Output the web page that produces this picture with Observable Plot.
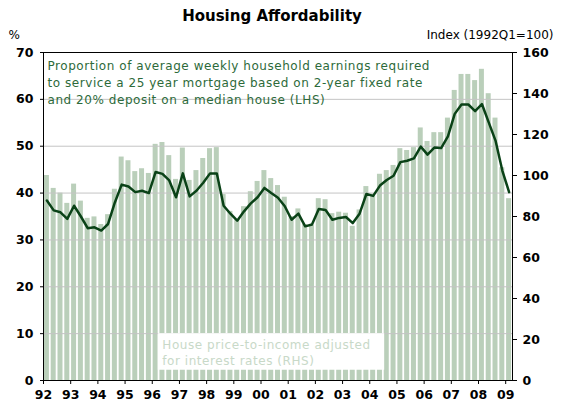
<!DOCTYPE html>
<html><head><meta charset="utf-8">
<script src="https://cdn.jsdelivr.net/npm/d3@7"></script>
<script src="https://cdn.jsdelivr.net/npm/@observablehq/plot@0.6"></script>
<style>
body{margin:0;background:#fff;}
#chart svg{display:block;}
.lhs-note text, .rhs-note text{letter-spacing:0.55px;}
</style></head><body><div id="chart"></div>
<script>
const startYear = 1992;
const yearLabels = ["92","93","94","95","96","97","98","99","00","01","02","03","04","05","06","07","08","09"];
const pctTicks = [0,10,20,30,40,50,60,70];
const indexTicks = [0,20,40,60,80,100,120,140,160];
const gridPct = [10,20,30,40,50,60];

// House price-to-income adjusted for interest rates (RHS, index 1992Q1=100), quarterly from 1992Q1
const priceToIncomeIndex = [
  100.0, 93.7, 91.4, 86.4, 95.8, 87.5, 79.1, 79.8, 76.1, 80.9, 93.3, 109.0,
  107.2, 101.9, 103.3, 101.0, 115.2, 116.1, 109.7, 98.1, 113.4, 97.6, 102.4, 108.3,
  113.1, 113.6, 90.7, 82.5, 78.4, 84.8, 92.1, 97.1, 102.4, 98.5, 95.1, 89.4,
  80.0, 83.7, 76.1, 75.7, 88.7, 88.2, 81.4, 82.1, 81.6, 75.2, 83.2, 94.6,
  91.0, 100.6, 102.4, 104.9, 113.1, 112.2, 113.6, 123.2, 116.6, 120.9, 120.9, 128.0,
  141.5, 149.3, 149.3, 146.3, 151.8, 139.9, 128.0, 103.8, 88.7
];
// Proportion of average weekly household earnings to service mortgage (LHS, %)
const mortgageSharePct = [
  38.4, 36.3, 35.9, 34.5, 37.3, 35.0, 32.5, 32.7, 32.0, 33.4, 38.0, 41.8,
  41.4, 40.2, 40.5, 40.0, 44.5, 44.1, 42.7, 39.1, 44.2, 39.3, 40.5, 42.2,
  44.2, 44.2, 37.3, 35.6, 34.1, 36.1, 37.8, 39.1, 41.1, 40.0, 39.0, 37.2,
  34.3, 35.6, 32.9, 33.3, 36.6, 36.4, 34.3, 34.7, 34.9, 33.6, 35.6, 39.8,
  39.4, 41.6, 42.8, 43.7, 46.6, 46.9, 47.4, 49.9, 48.2, 49.7, 49.6, 52.1,
  56.9, 58.9, 58.9, 57.5, 59.0, 55.1, 51.2, 44.8, 40.2
];

const title = "Housing Affordability";
const leftUnit = "%";
const rightUnit = "Index (1992Q1=100)";
const lhsNote = [
  "Proportion of average weekly household earnings required",
  "to service a 25 year mortgage based on 2-year fixed rate",
  "and 20% deposit on a median house (LHS)"
];
const rhsNote = ["House price-to-income adjusted", "for interest rates (RHS)"];

const pctMax = 70, idxMax = 160;
const idxToPct = v => v * pctMax / idxMax;
const rows = priceToIncomeIndex.map((v, i) => ({
  x0: startYear + i / 4,
  x1: startYear + (i + 1) / 4,
  xm: startYear + i / 4 + 0.125,
  bar: idxToPct(v),
  line: mortgageSharePct[i]
}));
const yearTicks = yearLabels.map((s, i) => startYear + i);

const font = "DejaVu Sans";
const chart = Plot.plot({
  width: 561, height: 410,
  marginLeft: 43, marginRight: 49, marginTop: 52, marginBottom: 30,
  x: {domain: [startYear, startYear + priceToIncomeIndex.length / 4]},
  y: {domain: [0, pctMax]},
  style: {fontFamily: font, background: "#fff", color: "#000"},
  marks: [
    Plot.rectY(rows, {x1: "x0", x2: "x1", y: "bar", fill: "#bacfba", insetLeft: 0.9, insetRight: 0.9}),
    Plot.ruleY(gridPct, {stroke: "#c4c4c4", strokeWidth: 1}),
    Plot.text([rhsNote.join("\n")], {x: 1996.37, y: 9.3, textAnchor: "start", lineAnchor: "top",
      lineHeight: 1.38, fontSize: 12, fill: "#c8d9c8", className: "rhs-note"}),
    Plot.text([lhsNote.join("\n")], {frameAnchor: "top-left", dx: 4, dy: 5, textAnchor: "start", lineAnchor: "top",
      lineHeight: 1.42, fontSize: 12, fill: "#2d6a3a", className: "lhs-note"}),
    Plot.line(rows, {x: "xm", y: "line", stroke: "#0a4217", strokeWidth: 2.5, strokeLinejoin: "round"}),
    Plot.frame({stroke: "#000"}),
    Plot.axisY(pctTicks, {anchor: "left", tickSize: 3, tickPadding: 7, fontSize: 12.5, fontWeight: "bold", label: null}),
    Plot.axisY(indexTicks.map(idxToPct), {anchor: "right", tickSize: 4, tickPadding: 6, fontSize: 12.5, fontWeight: "bold", label: null,
      tickFormat: d => String(Math.round(d * idxMax / pctMax))}),
    Plot.axisX(yearTicks, {anchor: "bottom", tickSize: 4, tickPadding: 6, fontSize: 12.5, fontWeight: "bold", label: null,
      tickFormat: d => yearLabels[Math.round(d) - startYear]}),
    Plot.text([title], {frameAnchor: "top", dx: -6, dy: -36.5, lineAnchor: "middle", fontSize: 15, fontWeight: "bold"}),
    Plot.text([leftUnit], {frameAnchor: "top-left", dx: -35, dy: -17, textAnchor: "start", lineAnchor: "middle", fontSize: 12}),
    Plot.text([rightUnit], {frameAnchor: "top-right", dx: 41, dy: -17, textAnchor: "end", lineAnchor: "middle", fontSize: 12})
  ]
});
document.getElementById("chart").appendChild(chart);

// white box behind the RHS note, sized from the note's own text box
const note = chart.querySelector(".rhs-note");
if (note) {
  const b = note.getBBox();
  const r = document.createElementNS("http://www.w3.org/2000/svg", "rect");
  r.setAttribute("x", b.x - 4);
  r.setAttribute("y", b.y - 4);
  r.setAttribute("width", b.width + 18);
  r.setAttribute("height", b.height + 6);
  r.setAttribute("fill", "#fff");
  note.parentNode.insertBefore(r, note);
}
</script></body></html>
